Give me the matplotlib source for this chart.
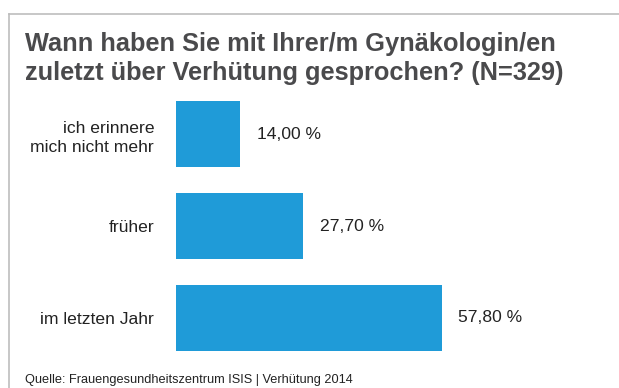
import matplotlib
matplotlib.use("Agg")
import matplotlib.pyplot as plt
from matplotlib.lines import Line2D

plt.rcParams["font.family"] = ["Liberation Sans", "DejaVu Sans"]

title_lines = ["Wann haben Sie mit Ihrer/m Gynäkologin/en",
               "zuletzt über Verhütung gesprochen? (N=329)"]
categories = ["ich erinnere\nmich nicht mehr", "früher", "im letzten Jahr"]
values = [14.00, 27.70, 57.80]
source = "Quelle: Frauengesundheitszentrum ISIS | Verhütung 2014"

W, H = 619, 388
fig = plt.figure(figsize=(W / 100, H / 100), dpi=100)
fig.patch.set_facecolor("white")

# thin grey frame on top and left
fig.add_artist(Line2D([8.5 / W, 1], [1 - 13.5 / H, 1 - 13.5 / H], color="#bdbdbd", lw=1.2))
fig.add_artist(Line2D([8.5 / W, 8.5 / W], [0, 1 - 13.5 / H], color="#bdbdbd", lw=1.2))

ax = fig.add_axes([175.7 / W, 24 / H, 276 / W, 276 / H])
ypos = list(range(len(values)))
ax.barh(ypos, values, height=0.717, color="#1f9bd8")
ax.set_xlim(0, 60)
ax.set_ylim(2.5, -0.5)
for y, v in zip(ypos, values):
    ax.text(v + 3.6, y, f"{v:.2f} %".replace(".", ","), va="center", ha="left",
            fontsize=12.6, color="#222222")
ax.set_yticks(ypos)
ax.set_yticklabels(categories, fontsize=12.6, color="#222222", linespacing=1.35)
ax.tick_params(axis="y", length=0, pad=15.5)
ax.set_xticks([])
for s in ax.spines.values():
    s.set_visible(False)

for i, line in enumerate(title_lines):
    fig.text(25 / W, 1 - (51 + 29 * i) / H, line, fontsize=18.3, fontweight="bold",
             color="#4a4a4c", va="baseline", ha="left")
fig.text(25 / W, 1 - 382.5 / H, source, fontsize=9.15, color="#222222", va="baseline", ha="left")

fig.savefig("out.png", dpi=100)
